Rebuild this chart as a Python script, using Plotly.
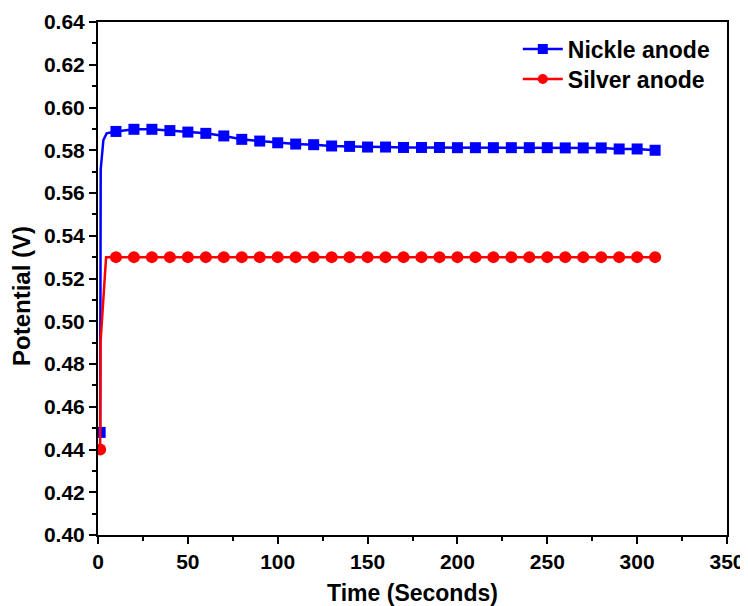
import plotly.graph_objects as go

# Nickle anode (blue) — start-up curve then 10 s samples
nickel_t_start = [1.2, 1.3, 1.5, 3, 4.8]
nickel_v_start = [0.448, 0.52, 0.571, 0.5848, 0.5879]
nickel_t = [10, 20, 30, 40, 50, 60, 70, 80, 90, 100, 110, 120, 130, 140, 150, 160,
            170, 180, 190, 200, 210, 220, 230, 240, 250, 260, 270, 280, 290, 300, 310]
nickel_v = [0.5888, 0.5898, 0.5898, 0.5892, 0.5885, 0.5879, 0.5867, 0.5851, 0.5843, 0.5835,
            0.5829, 0.5826, 0.5820, 0.5818, 0.5815, 0.5815, 0.5813, 0.5813, 0.5813, 0.5812,
            0.5812, 0.5812, 0.5812, 0.5812, 0.5812, 0.5811, 0.5811, 0.5811, 0.5806, 0.5806, 0.5800]

# Silver anode (red)
silver_t_start = [1.2, 1.4, 4.5]
silver_v_start = [0.44, 0.49, 0.53]
silver_t = nickel_t
silver_v = [0.53] * 31

FONT = "Liberation Sans, Arial, sans-serif"

fig = go.Figure()

def add_series(t_start, v_start, t, v, color, symbol, msize, name, legend):
    xs = t_start + t
    ys = v_start + v
    sizes = [msize] + [0] * (len(t_start) - 1) + [msize] * len(t)
    fig.add_trace(go.Scatter(
        x=xs, y=ys, mode="lines+markers", showlegend=False,
        line=dict(color=color, width=2.5),
        marker=dict(symbol=symbol, size=sizes, color=color, opacity=1, line=dict(width=0)),
    ))
    fig.add_trace(go.Scatter(
        x=[None], y=[None], mode="lines+markers", name=name, legend=legend,
        line=dict(color=color, width=2.5),
        marker=dict(symbol=symbol, size=10, color=color, opacity=1),
    ))

add_series(nickel_t_start, nickel_v_start, nickel_t, nickel_v, "#0000ff", "square", 11, "Nickle anode", "legend")
add_series(silver_t_start, silver_v_start, silver_t, silver_v, "#ff0000", "circle", 12, "Silver anode", "legend2")

axis_common = dict(
    showline=True, linecolor="black", linewidth=2, mirror=True,
    ticks="outside", ticklen=7, tickwidth=2, tickcolor="black",
    showgrid=False, zeroline=False, automargin=False,
    tickfont=dict(family=FONT, size=21, color="black", weight="bold"),
)

legend_common = dict(
    x=0.6674, xanchor="left", yanchor="middle",
    bgcolor="rgba(0,0,0,0)", borderwidth=0, itemwidth=40,
    font=dict(family=FONT, size=23, color="black", weight="bold"),
)

fig.update_layout(
    width=740, height=598,
    margin=dict(l=90, r=21, t=14, b=71),
    plot_bgcolor="white", paper_bgcolor="white",
    font=dict(family=FONT, color="black"),
    xaxis=dict(
        range=[0, 350], tickmode="linear", tick0=0, dtick=50,
        minor=dict(ticks="outside", ticklen=4, tickwidth=2, tickcolor="black", dtick=25),
        title=dict(text="Time (Seconds)", standoff=14,
                   font=dict(family=FONT, size=23, color="black", weight="bold")),
        **axis_common,
    ),
    yaxis=dict(
        range=[0.40, 0.64], tickmode="linear", tick0=0.40, dtick=0.02, tickformat=".2f",
        minor=dict(ticks="outside", ticklen=4, tickwidth=2, tickcolor="black", dtick=0.01),
        **axis_common,
    ),
    legend=dict(y=0.9474, **legend_common),
    legend2=dict(y=0.8889, **legend_common),
    annotations=[dict(
        text="Potential (V)", textangle=-90, showarrow=False,
        xref="paper", yref="paper", x=-0.1208, y=0.466, xanchor="center", yanchor="middle",
        font=dict(family=FONT, size=24, color="black", weight="bold"),
    )],
)

fig.write_html("out.html")
